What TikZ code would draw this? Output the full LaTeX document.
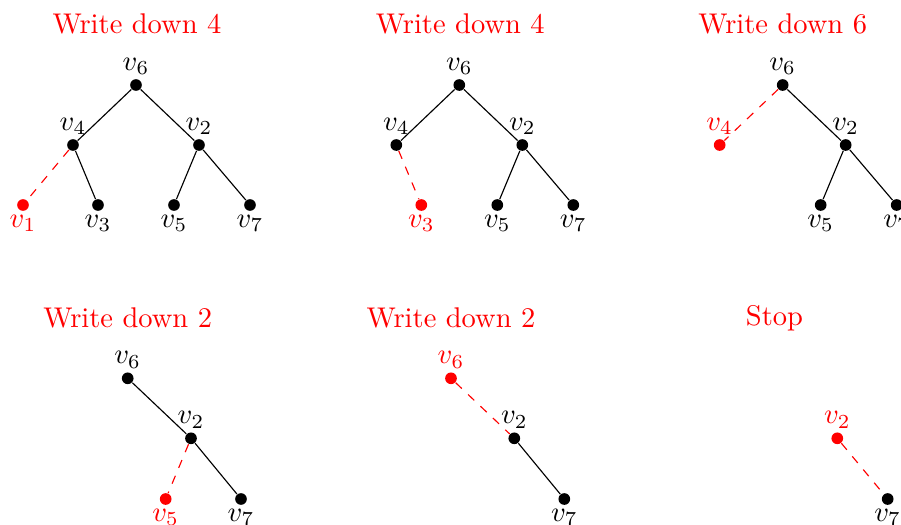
\documentclass[tikz,border=0pt]{standalone}
\begin{document}
\begin{tikzpicture}[x=0.3509pt,y=-0.3509pt,
  dot/.style={circle,fill=black,draw=none,inner sep=0pt,minimum size=4.1pt},
  hot/.style={dot,fill=red},
  lbl/.style={inner sep=1.1pt},
  link/.style={draw=black,line width=0.4pt},
  dropped/.style={draw=red,dashed,line width=0.4pt},
  title/.style={anchor=base,text=red,inner sep=0pt}]
\useasboundingbox (0,0) rectangle (901,525);

% ---- step 1: remove v1, write down 4
\begin{scope}[shift={(136,85)}]
  \node[title] (t1) at (1,-52) {Write down 4};
  \node[dot,label={[lbl]above:$v_6$}] (a6) at (0,0) {};
  \node[dot,label={[lbl]above:$v_4$}] (a4) at (-63,60) {};
  \node[dot,label={[lbl]above:$v_2$}] (a2) at (63,60) {};
  \node[hot,label={[lbl,text=red]below:$v_1$}] (a1) at (-113,120) {};
  \node[dot,label={[lbl]below:$v_3$}] (a3) at (-38,120) {};
  \node[dot,label={[lbl]below:$v_5$}] (a5) at (38,120) {};
  \node[dot,label={[lbl]below:$v_7$}] (a7) at (114,120) {};
  \path[link] (a6) -- (a4) (a6) -- (a2) (a4) -- (a3) (a2) -- (a5) (a2) -- (a7);
  \path[dropped] (a4) -- (a1);
\end{scope}

% ---- step 2: remove v3, write down 4
\begin{scope}[shift={(459.3,85)}]
  \node[title] (t2) at (1,-52) {Write down 4};
  \node[dot,label={[lbl]above:$v_6$}] (b6) at (0,0) {};
  \node[dot,label={[lbl]above:$v_4$}] (b4) at (-63,60) {};
  \node[dot,label={[lbl]above:$v_2$}] (b2) at (63,60) {};
  \node[hot,label={[lbl,text=red]below:$v_3$}] (b3) at (-38,120) {};
  \node[dot,label={[lbl]below:$v_5$}] (b5) at (38,120) {};
  \node[dot,label={[lbl]below:$v_7$}] (b7) at (114,120) {};
  \path[link] (b6) -- (b4) (b6) -- (b2) (b2) -- (b5) (b2) -- (b7);
  \path[dropped] (b4) -- (b3);
\end{scope}

% ---- step 3: remove v4, write down 6
\begin{scope}[shift={(782.7,85)}]
  \node[title] (t3) at (0,-52) {Write down 6};
  \node[dot,label={[lbl]above:$v_6$}] (c6) at (0,0) {};
  \node[hot,label={[lbl,text=red]above:$v_4$}] (c4) at (-63,60) {};
  \node[dot,label={[lbl]above:$v_2$}] (c2) at (63,60) {};
  \node[dot,label={[lbl]below:$v_5$}] (c5) at (38,120) {};
  \node[dot,label={[lbl]below:$v_7$}] (c7) at (114,120) {};
  \path[link] (c6) -- (c2) (c2) -- (c5) (c2) -- (c7);
  \path[dropped] (c6) -- (c4);
\end{scope}

% ---- step 4: remove v5, write down 2
\begin{scope}[shift={(127.7,378.3)}]
  \node[title] (t4) at (0,-51) {Write down 2};
  \node[dot,label={[lbl]above:$v_6$}] (d6) at (0,0) {};
  \node[dot,label={[lbl]above:$v_2$}] (d2) at (63.3,60) {};
  \node[hot,label={[lbl,text=red]below:$v_5$}] (d5) at (38,120.7) {};
  \node[dot,label={[lbl]below:$v_7$}] (d7) at (113.3,120.7) {};
  \path[link] (d6) -- (d2) (d2) -- (d7);
  \path[dropped] (d2) -- (d5);
\end{scope}

% ---- step 5: remove v6, write down 2
\begin{scope}[shift={(451,378.3)}]
  \node[title] (t5) at (0,-51) {Write down 2};
  \node[hot,label={[lbl,text=red]above:$v_6$}] (e6) at (0,0) {};
  \node[dot,label={[lbl]above:$v_2$}] (e2) at (63.3,60) {};
  \node[dot,label={[lbl]below:$v_7$}] (e7) at (113.3,120.7) {};
  \path[link] (e2) -- (e7);
  \path[dropped] (e6) -- (e2);
\end{scope}

% ---- step 6: two vertices left, stop
\begin{scope}[shift={(774,378.3)}]
  \node[title] (t6) at (0.5,-53) {Stop};
  \node[hot,label={[lbl,text=red]above:$v_2$}] (f2) at (63.3,60) {};
  \node[dot,label={[lbl]below:$v_7$}] (f7) at (113.7,120.7) {};
  \path[dropped] (f2) -- (f7);
\end{scope}
\end{tikzpicture}
\end{document}
